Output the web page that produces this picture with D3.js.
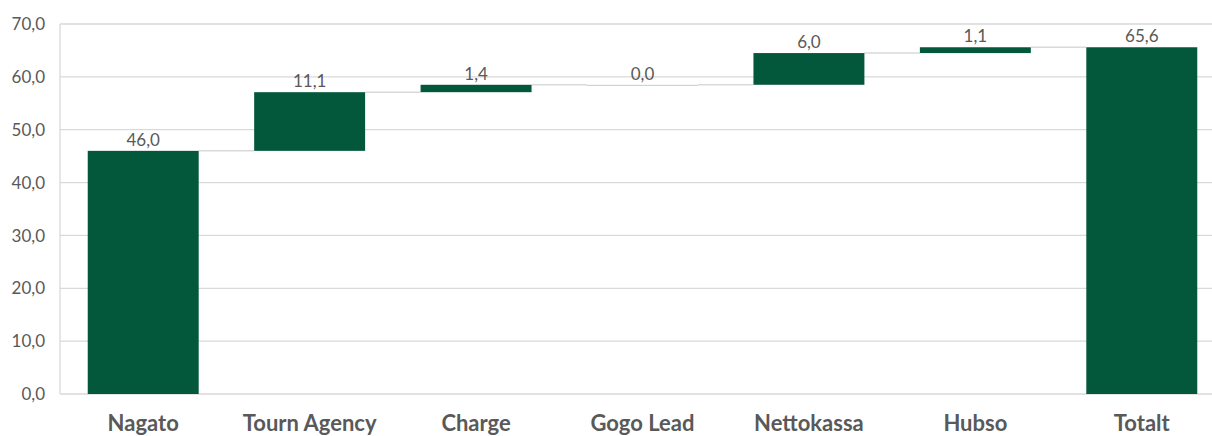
<!DOCTYPE html>
<html>
<head>
<meta charset="utf-8">
<script src="https://cdn.jsdelivr.net/npm/d3@7"></script>
<style>
  html, body { margin: 0; padding: 0; background: #fff; }
  svg { display: block; }
</style>
</head>
<body>
<svg id="chart" width="1212" height="436"></svg>
<script>
const categories = ["Nagato", "Tourn Agency", "Charge", "Gogo Lead", "Nettokassa", "Hubso", "Totalt"];
const values = [46.0, 11.1, 1.4, 0.0, 6.0, 1.1, 65.6];
const isTotal = [false, false, false, false, false, false, true];
const yTicks = [0, 10, 20, 30, 40, 50, 60, 70];

const W = 1212, H = 436;
const svg = d3.select("#chart");
const fmt = v => d3.format(".1f")(v).replace(".", ",");

const x = d3.scaleBand().domain(categories).range([60, 1225])
  .paddingInner(1/3).paddingOuter(1/6);
const y = d3.scaleLinear().domain([0, 70]).range([394, 24]);

const barColor = "#03573a";
const gridColor = "#d9d9d9";
const textColor = "#595959";
const font = "Lato, 'Open Sans', sans-serif";

// compute waterfall segments
let cum = 0;
const segs = categories.map((c, i) => {
  let start, end;
  if (isTotal[i]) { start = 0; end = values[i]; }
  else { start = cum; end = cum + values[i]; }
  cum = isTotal[i] ? values[i] : end;
  return { c, v: values[i], start, end };
});

// gridlines
svg.append("g").selectAll("line").data(yTicks).join("line")
  .attr("x1", 60).attr("x2", W)
  .attr("y1", d => y(d)).attr("y2", d => y(d))
  .attr("stroke", gridColor).attr("stroke-width", 1.3);

// y-axis line
svg.append("line").attr("x1", 60).attr("x2", 60)
  .attr("y1", y(70)).attr("y2", y(0))
  .attr("stroke", gridColor).attr("stroke-width", 1.3);

// y tick labels
svg.append("g").selectAll("text").data(yTicks).join("text")
  .attr("x", 45).attr("y", d => y(d)).attr("dy", "0.36em")
  .attr("text-anchor", "end")
  .attr("font-family", font).attr("font-size", 17)
  .attr("fill", textColor).text(d => fmt(d));

// connectors
svg.append("g").selectAll("line").data(segs.slice(0, -1)).join("line")
  .attr("x1", (d, i) => x(d.c) + x.bandwidth())
  .attr("x2", (d, i) => x(segs[i + 1].c))
  .attr("y1", d => y(d.end)).attr("y2", d => y(d.end))
  .attr("stroke", gridColor).attr("stroke-width", 1.5);

// bars
svg.append("g").selectAll("rect").data(segs).join("rect")
  .attr("x", d => x(d.c))
  .attr("width", x.bandwidth())
  .attr("y", d => y(Math.max(d.start, d.end)))
  .attr("height", d => Math.max(1.2, Math.abs(y(d.start) - y(d.end))))
  .attr("fill", d => d.v === 0 ? "#c8d8d0" : barColor);

// value labels
svg.append("g").selectAll("text").data(segs).join("text")
  .attr("x", d => x(d.c) + x.bandwidth() / 2)
  .attr("y", d => y(Math.max(d.start, d.end)) - 5)
  .attr("text-anchor", "middle")
  .attr("font-family", font).attr("font-size", 17)
  .attr("fill", textColor).text(d => fmt(d.v));

// category labels
svg.append("g").selectAll("text").data(categories).join("text")
  .attr("x", d => x(d) + x.bandwidth() / 2)
  .attr("y", 431)
  .attr("text-anchor", "middle")
  .attr("font-family", font).attr("font-size", 22).attr("font-weight", "bold")
  .attr("fill", textColor).text(d => d);
</script>
</body>
</html>
